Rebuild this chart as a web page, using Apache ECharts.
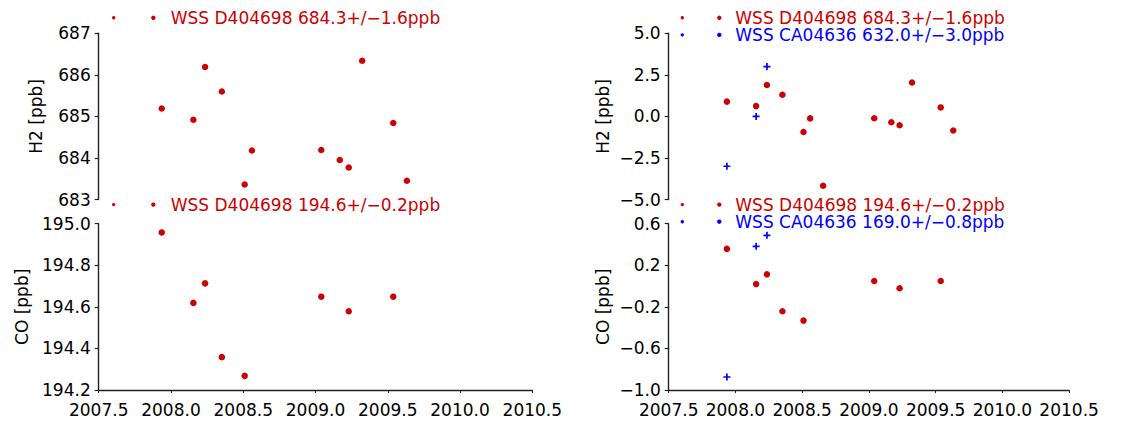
<!DOCTYPE html>
<html>
<head>
<meta charset="utf-8">
<script src="https://cdn.jsdelivr.net/npm/echarts@6/dist/echarts.min.js"></script>
<style>
html,body{margin:0;padding:0;background:#fff;}
#chart{width:1143px;height:425px;}
</style>
</head>
<body>
<div id="chart"></div>
<script>
// ---- data ----
const datesH2Red = [2007.936, 2008.155, 2008.236, 2008.352, 2008.51, 2008.56, 2008.657, 2009.04, 2009.168, 2009.23, 2009.323, 2009.538, 2009.632];
const h2Red = [685.19, 684.92, 686.19, 685.60, 683.36, 684.18, 680.13, 684.19, 683.95, 683.77, 686.34, 684.84, 683.45];
const h2RedMean = 684.3;

const datesCORed = [2007.936, 2008.155, 2008.236, 2008.352, 2008.51, 2009.04, 2009.23, 2009.538];
const coRed = [194.958, 194.619, 194.713, 194.358, 194.268, 194.649, 194.579, 194.649];
const coRedMean = 194.6;

const datesBlue = [2007.936, 2008.155, 2008.236];
const h2BlueDiff = [-3.0, 0.0, 3.0];
const coBlueDiff = [-0.875, 0.382, 0.488];

const legendH2 = ['WSS D404698 684.3+/\u22121.6ppb', 'WSS CA04636 632.0+/\u22123.0ppb'];
const legendCO = ['WSS D404698 194.6+/\u22120.2ppb', 'WSS CA04636 169.0+/\u22120.8ppb'];
const yNames = ['H2 [ppb]', 'CO [ppb]'];

// axis ranges [min, max, interval]
const xRange = [2007.5, 2010.5, 0.5];
const yH2Abs = [683, 687, 1];
const yCOAbs = [194.2, 195.0, 0.2];
const yH2Diff = [-5, 5, 2.5];
const yCODiff = [-1.0, 0.6, 0.4];

// ---- styling ----
const RED = '#cc0000', BLUE = '#0000ff';
const FONT = 'DejaVu Sans';
const FS = 17;
const fmt = (d) => (v) => {
  const s = (Math.round(v * 1000) / 1000).toFixed(d);
  return s.replace('-', '\u2212');
};
const zip = (a, b) => a.map((x, i) => [x, b[i]]);
const PLUS = 'path://M2.65,0H4.35V7H2.65Z M0,2.65H7V4.35H0Z';

const grids = [
  {left: 98.7, top: 33.3, width: 433.6, height: 166.2},
  {left: 98.7, top: 223.7, width: 433.6, height: 166.3},
  {left: 668.7, top: 33.3, width: 400.4, height: 166.2},
  {left: 668.7, top: 223.7, width: 400.4, height: 166.3}
].map(g => Object.assign({outerBoundsMode: 'none', containLabel: false}, g));

function xAxis(i, show) {
  return {
    type: 'value', gridIndex: i, min: xRange[0], max: xRange[1], interval: xRange[2],
    show: show,
    axisLine: {show: true, onZero: false, lineStyle: {color: '#222', width: 1.4}},
    axisTick: {show: true, length: 3, lineStyle: {color: '#222', width: 1}},
    axisLabel: {color: '#000', fontFamily: FONT, fontSize: FS, margin: 11, formatter: fmt(1)},
    splitLine: {show: false}
  };
}
function yAxis(i, r, dec, name, gap) {
  return {
    type: 'value', gridIndex: i, min: r[0], max: r[1], interval: r[2],
    name: name, nameLocation: 'middle', nameGap: gap, nameRotate: 90,
    nameTextStyle: {color: '#000', fontFamily: FONT, fontSize: FS},
    axisLine: {show: true, onZero: false, lineStyle: {color: '#222', width: 1.4}},
    axisTick: {show: true, length: 4, lineStyle: {color: '#222', width: 1.2}},
    axisLabel: {color: '#000', fontFamily: FONT, fontSize: FS, margin: 8, formatter: fmt(dec)},
    splitLine: {show: false}
  };
}

function legendGraphics(x1, x2, xt, y, text, color) {
  return [
    {type: 'circle', shape: {cx: x1, cy: y, r: 1.7}, style: {fill: color}, silent: true},
    {type: 'circle', shape: {cx: x2, cy: y, r: 2.2}, style: {fill: color}, silent: true},
    {type: 'text', x: xt, y: y, style: {text: text, fill: color, font: FS + 'px "' + FONT + '"', textVerticalAlign: 'middle', textAlign: 'left'}, silent: true}
  ];
}

const graphics = [].concat(
  legendGraphics(113.7, 153.3, 170.7, 17.8, legendH2[0], RED),
  legendGraphics(113.7, 153.3, 170.7, 204.6, legendCO[0], RED),
  legendGraphics(682.3, 719.3, 735.3, 17.8, legendH2[0], RED),
  legendGraphics(682.3, 719.3, 735.3, 34.9, legendH2[1], BLUE),
  legendGraphics(682.3, 719.3, 735.3, 204.6, legendCO[0], RED),
  legendGraphics(682.3, 719.3, 735.3, 221.7, legendCO[1], BLUE)
);

const dot = (xi, yi, data, name) => ({
  type: 'scatter', name: name, xAxisIndex: xi, yAxisIndex: yi, data: data,
  symbol: 'circle', symbolSize: 6.5, itemStyle: {color: RED, opacity: 1}, clip: true,
  silent: true, animation: false
});
const plus = (xi, yi, data, name) => ({
  type: 'scatter', name: name, xAxisIndex: xi, yAxisIndex: yi, data: data,
  symbol: PLUS, symbolSize: 7, itemStyle: {color: BLUE, opacity: 1}, clip: true,
  silent: true, animation: false
});

const option = {
  backgroundColor: '#fff',
  animation: false,
  grid: grids,
  xAxis: [xAxis(0, false), xAxis(1, true), xAxis(2, false), xAxis(3, true)],
  yAxis: [
    yAxis(0, yH2Abs, 0, yNames[0], 54),
    yAxis(1, yCOAbs, 1, yNames[1], 68),
    yAxis(2, yH2Diff, 1, yNames[0], 57),
    yAxis(3, yCODiff, 1, yNames[1], 57)
  ],
  series: [
    dot(0, 0, zip(datesH2Red, h2Red), legendH2[0]),
    dot(1, 1, zip(datesCORed, coRed), legendCO[0]),
    dot(2, 2, zip(datesH2Red, h2Red.map(v => v - h2RedMean)), legendH2[0]),
    plus(2, 2, zip(datesBlue, h2BlueDiff), legendH2[1]),
    dot(3, 3, zip(datesCORed, coRed.map(v => v - coRedMean)), legendCO[0]),
    plus(3, 3, zip(datesBlue, coBlueDiff), legendCO[1])
  ],
  graphic: graphics
};

const chart = echarts.init(document.getElementById('chart'), null, {renderer: 'svg'});
chart.setOption(option);
</script>
</body>
</html>
